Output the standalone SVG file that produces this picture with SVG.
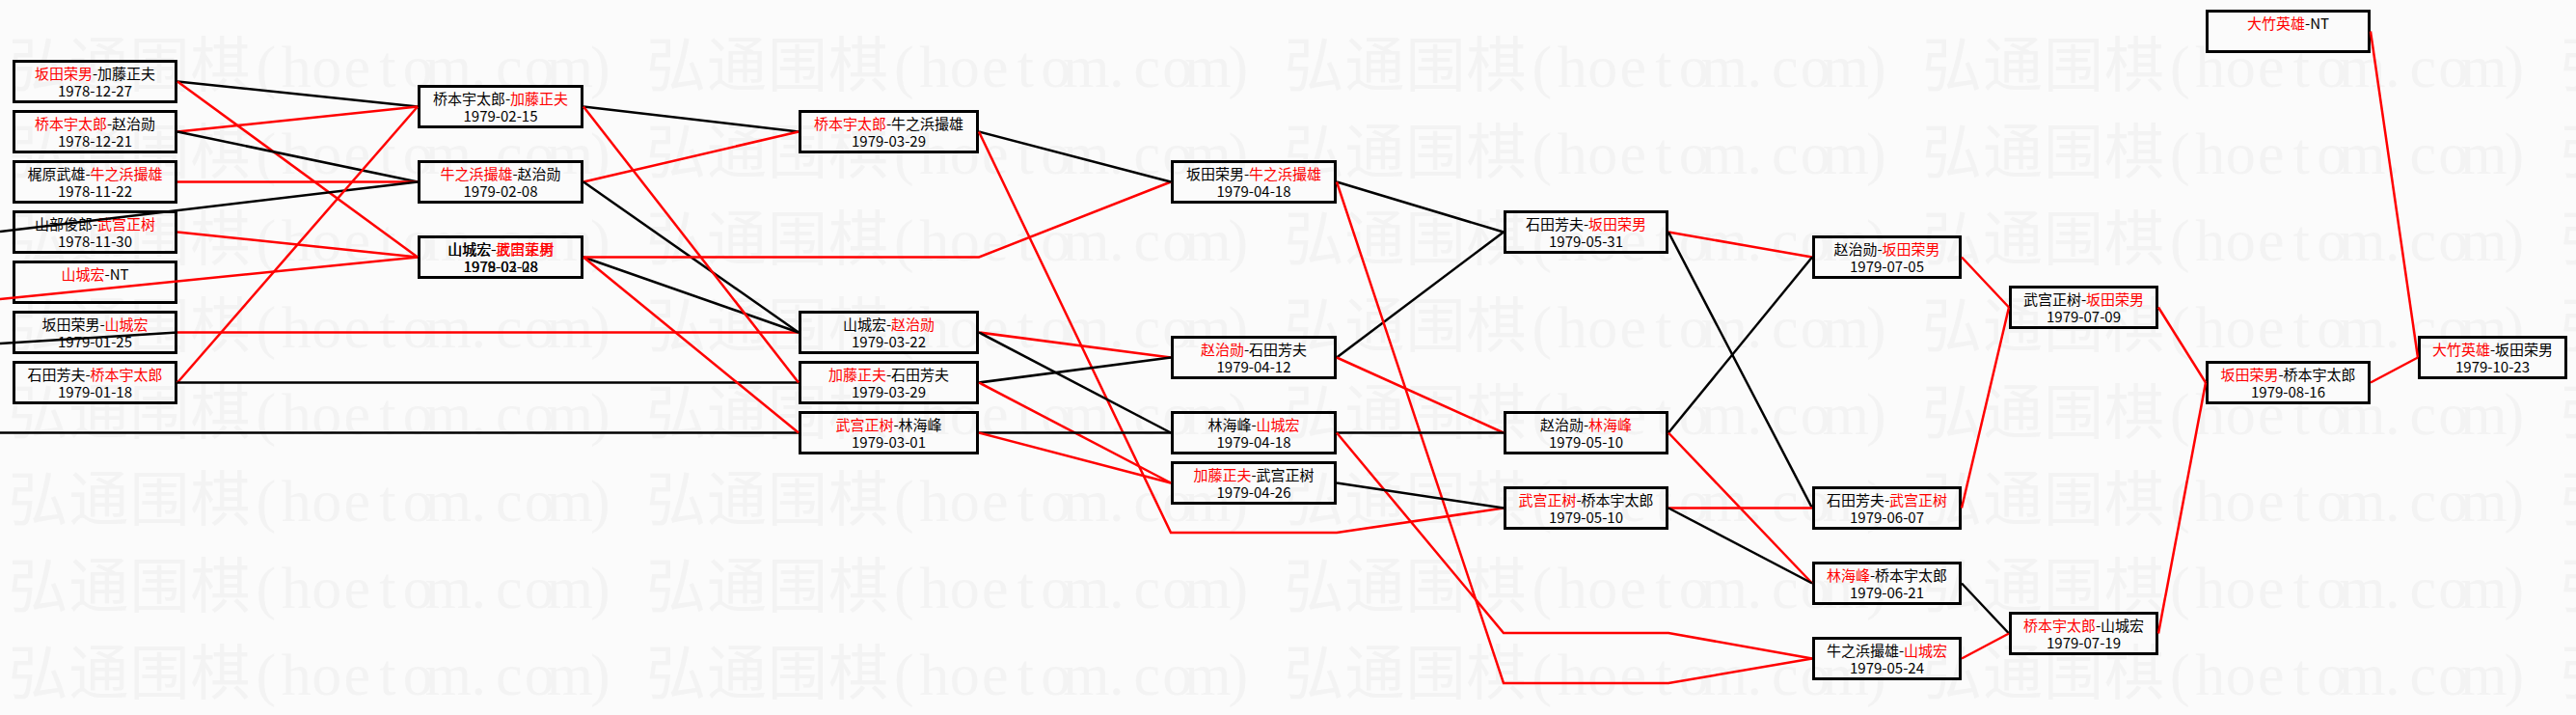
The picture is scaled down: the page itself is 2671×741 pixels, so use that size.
<svg xmlns="http://www.w3.org/2000/svg" width="2671" height="741" viewBox="0 0 2671 741">
<style>
.wm{font-family:"Liberation Serif","Noto Sans CJK SC",serif;font-size:62px;fill:#f3f3f3;text-anchor:middle}
.box{fill:none;stroke:#000;stroke-width:3}
.t{font-family:"Noto Sans CJK SC","Noto Sans",sans-serif;font-size:15px;fill:#000;text-anchor:middle}
.r{fill:#f00}
.lk{fill:none;stroke:#000;stroke-width:2.5}
.lr{fill:none;stroke:#f00;stroke-width:2.5}
</style>
<defs>
<text id="wmc" class="wm" x="31.5 94.5 157.5 220.5 267.75 299.25 330.75 362.25 393.75 425.25 456.75 488.25 519.75 551.25 582.75 614.25" y="0">弘通围棋(hoetom.com)</text>
<g id="wmrow">
<use href="#wmc" x="8"/>
<use href="#wmc" x="669.5"/>
<use href="#wmc" x="1331"/>
<use href="#wmc" x="1992.5"/>
<use href="#wmc" x="2654"/>
</g>
</defs>
<rect x="0" y="0" width="2671" height="741" fill="#fbfbfb"/>
<g id="watermark">
<use href="#wmrow" y="90"/>
<use href="#wmrow" y="180"/>
<use href="#wmrow" y="270"/>
<use href="#wmrow" y="360"/>
<use href="#wmrow" y="450"/>
<use href="#wmrow" y="540"/>
<use href="#wmrow" y="630"/>
<use href="#wmrow" y="720"/>
</g>
<g id="nodes">
<g id="n-a1"><rect class="box" x="14.5" y="63.5" width="168" height="42"/><text class="t" x="98.5" y="82"><tspan class="r">坂田荣男</tspan>-加藤正夫</text><text class="t" x="98.5" y="100">1978-12-27</text></g>
<g id="n-a2"><rect class="box" x="14.5" y="115.5" width="168" height="42"/><text class="t" x="98.5" y="134"><tspan class="r">桥本宇太郎</tspan>-赵治勋</text><text class="t" x="98.5" y="152">1978-12-21</text></g>
<g id="n-a3"><rect class="box" x="14.5" y="167.5" width="168" height="42"/><text class="t" x="98.5" y="186">梶原武雄-<tspan class="r">牛之浜撮雄</tspan></text><text class="t" x="98.5" y="204">1978-11-22</text></g>
<g id="n-a4"><rect class="box" x="14.5" y="219.5" width="168" height="42"/><text class="t" x="98.5" y="238">山部俊郎-<tspan class="r">武宫正树</tspan></text><text class="t" x="98.5" y="256">1978-11-30</text></g>
<g id="n-a5"><rect class="box" x="14.5" y="271.5" width="168" height="42"/><text class="t" x="98.5" y="290"><tspan class="r">山城宏</tspan>-NT</text></g>
<g id="n-a6"><rect class="box" x="14.5" y="323.5" width="168" height="42"/><text class="t" x="98.5" y="342">坂田荣男-<tspan class="r">山城宏</tspan></text><text class="t" x="98.5" y="360">1979-01-25</text></g>
<g id="n-a7"><rect class="box" x="14.5" y="375.5" width="168" height="42"/><text class="t" x="98.5" y="394">石田芳夫-<tspan class="r">桥本宇太郎</tspan></text><text class="t" x="98.5" y="412">1979-01-18</text></g>

<g id="n-b1"><rect class="box" x="434.5" y="89.5" width="169" height="42"/><text class="t" x="519" y="108">桥本宇太郎-<tspan class="r">加藤正夫</tspan></text><text class="t" x="519" y="126">1979-02-15</text></g>
<g id="n-b2"><rect class="box" x="434.5" y="167.5" width="169" height="42"/><text class="t" x="519" y="186"><tspan class="r">牛之浜撮雄</tspan>-赵治勋</text><text class="t" x="519" y="204">1979-02-08</text></g>
<g id="n-b3"><rect class="box" x="434.5" y="245.5" width="169" height="42"/><text class="t" x="519" y="264">山城宏-<tspan class="r">坂田荣男</tspan></text><text class="t" x="519" y="282">1979-03-08</text><text class="t" x="519.5" y="264">山城宏-<tspan class="r">武宫正树</tspan></text><text class="t" x="519.5" y="282">1978-02-28</text></g>

<g id="n-c1"><rect class="box" x="829.5" y="115.5" width="184" height="42"/><text class="t" x="921.5" y="134"><tspan class="r">桥本宇太郎</tspan>-牛之浜撮雄</text><text class="t" x="921.5" y="152">1979-03-29</text></g>
<g id="n-c2"><rect class="box" x="829.5" y="323.5" width="184" height="42"/><text class="t" x="921.5" y="342">山城宏-<tspan class="r">赵治勋</tspan></text><text class="t" x="921.5" y="360">1979-03-22</text></g>
<g id="n-c3"><rect class="box" x="829.5" y="375.5" width="184" height="42"/><text class="t" x="921.5" y="394"><tspan class="r">加藤正夫</tspan>-石田芳夫</text><text class="t" x="921.5" y="412">1979-03-29</text></g>
<g id="n-c4"><rect class="box" x="829.5" y="427.5" width="184" height="42"/><text class="t" x="921.5" y="446"><tspan class="r">武宫正树</tspan>-林海峰</text><text class="t" x="921.5" y="464">1979-03-01</text></g>

<g id="n-d1"><rect class="box" x="1215.5" y="167.5" width="169" height="42"/><text class="t" x="1300" y="186">坂田荣男-<tspan class="r">牛之浜撮雄</tspan></text><text class="t" x="1300" y="204">1979-04-18</text></g>
<g id="n-d2"><rect class="box" x="1215.5" y="349.5" width="169" height="42"/><text class="t" x="1300" y="368"><tspan class="r">赵治勋</tspan>-石田芳夫</text><text class="t" x="1300" y="386">1979-04-12</text></g>
<g id="n-d3"><rect class="box" x="1215.5" y="427.5" width="169" height="42"/><text class="t" x="1300" y="446">林海峰-<tspan class="r">山城宏</tspan></text><text class="t" x="1300" y="464">1979-04-18</text></g>
<g id="n-d4"><rect class="box" x="1215.5" y="479.5" width="169" height="42"/><text class="t" x="1300" y="498"><tspan class="r">加藤正夫</tspan>-武宫正树</text><text class="t" x="1300" y="516">1979-04-26</text></g>

<g id="n-e1"><rect class="box" x="1560.5" y="219.5" width="168" height="42"/><text class="t" x="1644.5" y="238">石田芳夫-<tspan class="r">坂田荣男</tspan></text><text class="t" x="1644.5" y="256">1979-05-31</text></g>
<g id="n-e2"><rect class="box" x="1560.5" y="427.5" width="168" height="42"/><text class="t" x="1644.5" y="446">赵治勋-<tspan class="r">林海峰</tspan></text><text class="t" x="1644.5" y="464">1979-05-10</text></g>
<g id="n-e3"><rect class="box" x="1560.5" y="505.5" width="168" height="42"/><text class="t" x="1644.5" y="524"><tspan class="r">武宫正树</tspan>-桥本宇太郎</text><text class="t" x="1644.5" y="542">1979-05-10</text></g>

<g id="n-f1"><rect class="box" x="1880.5" y="245.5" width="152" height="42"/><text class="t" x="1956.5" y="264">赵治勋-<tspan class="r">坂田荣男</tspan></text><text class="t" x="1956.5" y="282">1979-07-05</text></g>
<g id="n-f2"><rect class="box" x="1880.5" y="505.5" width="152" height="42"/><text class="t" x="1956.5" y="524">石田芳夫-<tspan class="r">武宫正树</tspan></text><text class="t" x="1956.5" y="542">1979-06-07</text></g>
<g id="n-f3"><rect class="box" x="1880.5" y="583.5" width="152" height="42"/><text class="t" x="1956.5" y="602"><tspan class="r">林海峰</tspan>-桥本宇太郎</text><text class="t" x="1956.5" y="620">1979-06-21</text></g>
<g id="n-f4"><rect class="box" x="1880.5" y="661.5" width="152" height="42"/><text class="t" x="1956.5" y="680">牛之浜撮雄-<tspan class="r">山城宏</tspan></text><text class="t" x="1956.5" y="698">1979-05-24</text></g>

<g id="n-g1"><rect class="box" x="2084.5" y="297.5" width="152" height="42"/><text class="t" x="2160.5" y="316">武宫正树-<tspan class="r">坂田荣男</tspan></text><text class="t" x="2160.5" y="334">1979-07-09</text></g>
<g id="n-g2"><rect class="box" x="2084.5" y="635.5" width="152" height="42"/><text class="t" x="2160.5" y="654"><tspan class="r">桥本宇太郎</tspan>-山城宏</text><text class="t" x="2160.5" y="672">1979-07-19</text></g>

<g id="n-h0"><rect class="box" x="2288.5" y="11.5" width="168" height="42"/><text class="t" x="2372.5" y="30"><tspan class="r">大竹英雄</tspan>-NT</text></g>
<g id="n-h1"><rect class="box" x="2288.5" y="375.5" width="168" height="42"/><text class="t" x="2372.5" y="394"><tspan class="r">坂田荣男</tspan>-桥本宇太郎</text><text class="t" x="2372.5" y="412">1979-08-16</text></g>

<g id="n-i1"><rect class="box" x="2508.5" y="349.5" width="152" height="42"/><text class="t" x="2584.5" y="368"><tspan class="r">大竹英雄</tspan>-坂田荣男</text><text class="t" x="2584.5" y="386">1979-10-23</text></g>
</g>
<g id="connectors">
<polyline class="lk" points="184,84.5 433,110.5"/>
<polyline class="lr" points="184,84.5 433,266.5"/>
<polyline class="lr" points="184,136.5 433,110.5"/>
<polyline class="lk" points="184,136.5 433,188.5"/>
<polyline class="lr" points="184,188.5 433,188.5"/>
<polyline class="lk" points="0,240 433,188.5"/>
<polyline class="lr" points="184,240.5 433,266.5"/>
<polyline class="lr" points="0,310 433,266.5"/>
<polyline class="lr" points="184,396.5 433,110.5"/>
<polyline class="lk" points="0,356 184,344.5"/>
<polyline class="lr" points="184,344.5 828,344.5"/>
<polyline class="lk" points="184,396.5 828,396.5"/>
<polyline class="lk" points="0,448.5 828,448.5"/>

<polyline class="lk" points="605,110.5 828,136.5"/>
<polyline class="lr" points="605,188.5 828,136.5"/>
<polyline class="lk" points="605,188.5 828,344.5"/>
<polyline class="lk" points="605,266.5 828,344.5"/>
<polyline class="lr" points="605,266.5 1015,266.5 1214,188.5"/>
<polyline class="lr" points="605,110.5 828,396.5"/>
<polyline class="lr" points="605,266.5 828,448.5"/>

<polyline class="lk" points="1015,136.5 1214,188.5"/>
<polyline class="lr" points="1015,136.5 1214,552 1386,552 1559,526.5"/>
<polyline class="lr" points="1015,344.5 1214,370.5"/>
<polyline class="lk" points="1015,344.5 1214,448.5"/>
<polyline class="lk" points="1015,396.5 1214,370.5"/>
<polyline class="lr" points="1015,396.5 1214,500.5"/>
<polyline class="lk" points="1015,448.5 1214,448.5"/>
<polyline class="lr" points="1015,448.5 1214,500.5"/>

<polyline class="lk" points="1386,188.5 1559,240.5"/>
<polyline class="lk" points="1386,370.5 1559,240.5"/>
<polyline class="lr" points="1386,188.5 1559,708 1730,708 1879,682.5"/>
<polyline class="lr" points="1386,370.5 1559,448.5"/>
<polyline class="lk" points="1386,448.5 1559,448.5"/>
<polyline class="lr" points="1386,448.5 1559,656 1730,656 1879,682.5"/>
<polyline class="lk" points="1386,500.5 1559,526.5"/>

<polyline class="lr" points="1730,240.5 1879,266.5"/>
<polyline class="lk" points="1730,240.5 1879,526.5"/>
<polyline class="lk" points="1730,448.5 1879,266.5"/>
<polyline class="lr" points="1730,448.5 1879,604.5"/>
<polyline class="lr" points="1730,526.5 1879,526.5"/>
<polyline class="lk" points="1730,526.5 1879,604.5"/>

<polyline class="lr" points="2034,266.5 2083,318.5"/>
<polyline class="lr" points="2034,526.5 2083,318.5"/>
<polyline class="lk" points="2034,604.5 2083,656.5"/>
<polyline class="lr" points="2034,682.5 2083,656.5"/>

<polyline class="lr" points="2238,318.5 2287,396.5"/>
<polyline class="lr" points="2238,656.5 2287,396.5"/>

<polyline class="lr" points="2458,32.5 2507,370.5"/>
<polyline class="lr" points="2458,396.5 2507,370.5"/>
</g>
</svg>
